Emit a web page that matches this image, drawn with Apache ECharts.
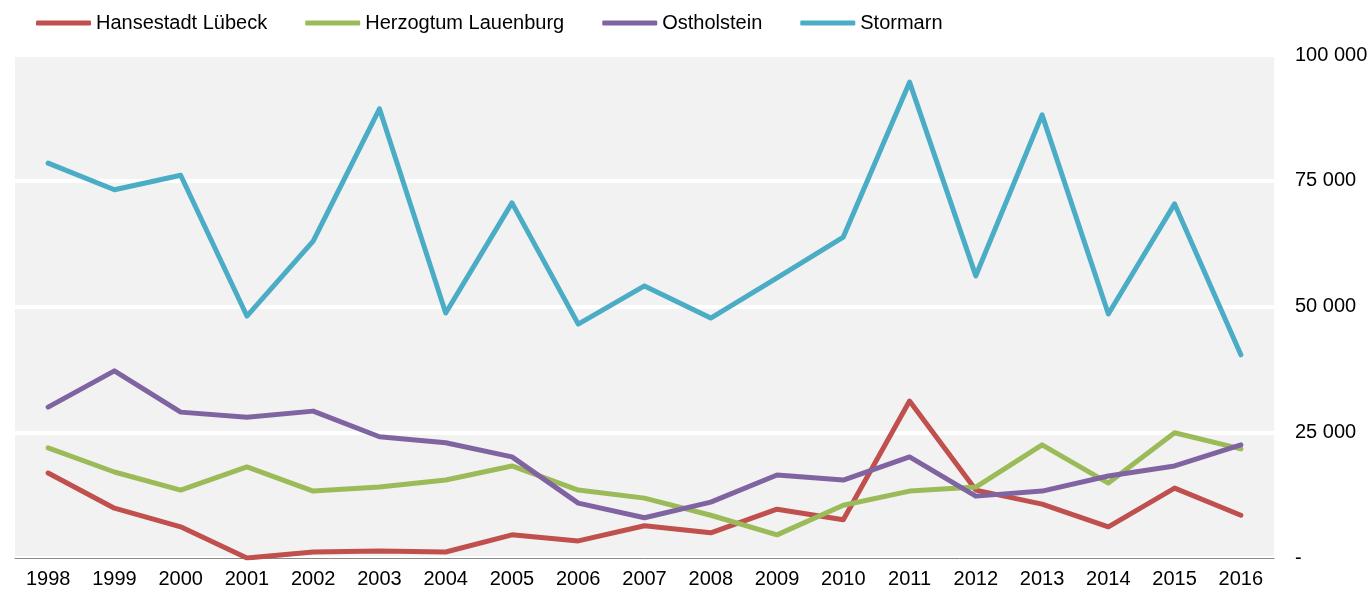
<!DOCTYPE html>
<html>
<head>
<meta charset="utf-8">
<script src="https://cdn.jsdelivr.net/npm/echarts@6/dist/echarts.min.js"></script>
<style>
  html, body { margin: 0; padding: 0; background: #fff; }
  #chartdiv { width: 1371px; height: 593px; }
</style>
</head>
<body>
<div id="chartdiv"></div>
<script>
var years = ['1998', '1999', '2000', '2001', '2002', '2003', '2004', '2005', '2006', '2007',
             '2008', '2009', '2010', '2011', '2012', '2013', '2014', '2015', '2016'];

var luebeck = [16900, 9900, 6200, 0, 1200, 1400, 1200, 4600, 3400, 6400,
               5000, 9700, 7600, 31200, 13500, 10700, 6200, 13900, 8500];
var lauenburg = [21900, 17100, 13500, 18100, 13300, 14100, 15500, 18300, 13500, 11900,
                 8500, 4600, 10500, 13300, 14100, 22500, 14900, 24900, 21700];
var ostholstein = [30000, 37200, 29000, 28000, 29200, 24100, 22900, 20100, 10900, 8000,
                   11100, 16500, 15500, 20100, 12300, 13300, 16300, 18300, 22500];
var stormarn = [78500, 73200, 76100, 48100, 63000, 89300, 48700, 70600, 46500, 54100,
                47700, 55700, 63800, 94600, 56100, 88100, 48500, 70400, 40400];

var seriesNames = ['Hansestadt Lübeck', 'Herzogtum Lauenburg', 'Ostholstein', 'Stormarn'];
var seriesColors = ['#c0504d', '#9bbb59', '#8064a2', '#4bacc6'];
var seriesData = [luebeck, lauenburg, ostholstein, stormarn];

var series = seriesData.map(function(d, i) {
    return {
        name: seriesNames[i],
        type: 'line',
        data: d,
        showSymbol: false,
        symbol: 'none',
        color: seriesColors[i],
        lineStyle: {
            width: 5,
            cap: 'round',
            join: 'round'
        }
    };
});

var fontFamily = '"Liberation Sans", Arial, sans-serif';

var options = {
    animation: false,
    textStyle: { fontFamily: fontFamily },
    legend: {
        left: 31,
        top: 8,
        icon: 'roundRect',
        itemWidth: 55,
        itemHeight: 5,
        itemGap: 38,
        textStyle: {
            fontSize: 20,
            color: '#000',
            fontFamily: fontFamily
        }
    },
    grid: {
        top: 55,
        bottom: 35,
        left: 15,
        right: 97,
        show: true,
        backgroundColor: '#f2f2f2',
        borderWidth: 0
    },
    xAxis: {
        type: 'category',
        data: years,
        boundaryGap: true,
        axisLine: { lineStyle: { color: '#888', width: 1 } },
        axisTick: { length: 5, lineStyle: { color: '#888' } },
        axisLabel: {
            fontSize: 20,
            color: '#000',
            margin: 11
        }
    },
    yAxis: {
        type: 'value',
        position: 'right',
        min: 0,
        max: 100000,
        interval: 25000,
        axisLine: { show: false },
        axisTick: { show: false },
        splitLine: { lineStyle: { color: '#fff', width: 4 } },
        axisLabel: {
            fontSize: 20,
            color: '#000',
            margin: 21,
            formatter: function(v) {
                if (v === 0) return '-';
                return String(v).replace(/\B(?=(\d{3})+(?!\d))/g, ' ');
            }
        }
    },
    series: series
};

var chartDom = document.getElementById('chartdiv');
var plot = echarts.init(chartDom);
plot.setOption(options);
</script>
</body>
</html>
